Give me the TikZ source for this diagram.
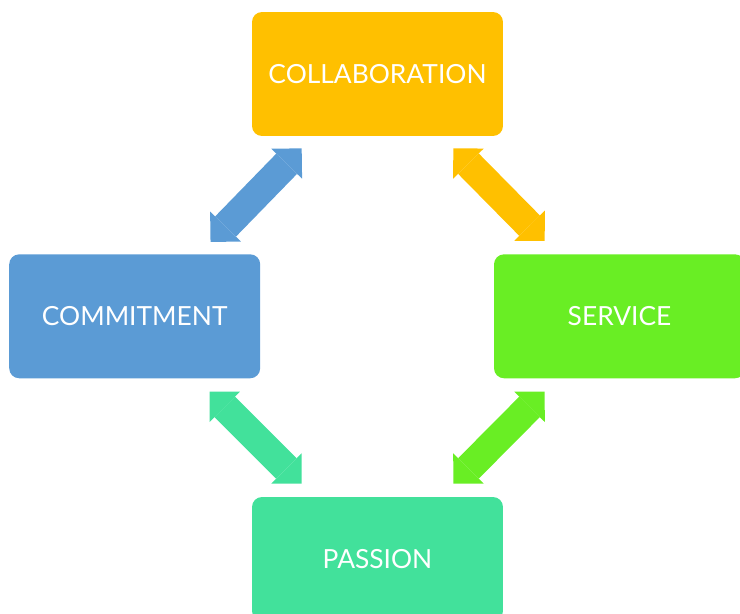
\documentclass[tikz,border=0pt]{standalone}
\usepackage{fontspec}
\setmainfont{Lato}
\usetikzlibrary{arrows.meta,calc}

\definecolor{collabyellow}{HTML}{FFC000}
\definecolor{commitblue}{HTML}{5B9BD5}
\definecolor{servicegreen}{HTML}{69EE24}
\definecolor{passionteal}{HTML}{42E19B}

\tikzset{
  valuebox/.style={rounded corners=0.2cm, minimum width=5.02cm, minimum height=2.48cm,
    inner sep=0pt, text=white, font=\fontsize{15}{18}\selectfont},
  twoway/.style={line width=0.58cm,
    {Triangle[width=0.86cm,length=0.43cm,line width=0pt]}-{Triangle[width=0.86cm,length=0.43cm,line width=0pt]}},
}

\begin{document}
\begin{tikzpicture}[x=0.02cm,y=-0.02cm]
			%%%%% FRAME %%%%%
			\useasboundingbox (0,0) rectangle (740,614);
			\clip (0,0) rectangle (740,614);
			
			%%%%% VALUES %%%%%
			\node[valuebox, fill=collabyellow] (collab) at (377.5,74) {COLLABORATION};
			\node[valuebox, fill=commitblue] (commit) at (134.7,316.3) {COMMITMENT};
			\node[valuebox, fill=servicegreen] (service) at (619.5,316.3) {SERVICE};
			\node[valuebox, fill=passionteal] (passion) at (377.5,559) {PASSION};
			
			%%%%% LINKS %%%%%
			\coordinate (blue1) at ($(collab.south west)+(50,12)$);
			\coordinate (blue2) at ($(commit.north east)+(-50,-12)$);
			\coordinate (yellow1) at ($(collab.south east)+(-50,12)$);
			\coordinate (yellow2) at ($(service.north west)+(51,-13)$);
			\coordinate (teal1) at ($(commit.south east)+(-51,13)$);
			\coordinate (teal2) at ($(passion.north west)+(50,-13)$);
			\coordinate (green1) at ($(service.south west)+(51,13)$);
			\coordinate (green2) at ($(passion.north east)+(-50,-13)$);
			
			\draw[twoway, commitblue] (blue1) -- (blue2);
			\draw[twoway, collabyellow] (yellow1) -- (yellow2);
			\draw[twoway, passionteal] (teal1) -- (teal2);
			\draw[twoway, servicegreen] (green1) -- (green2);
			
			%%%%% END %%%%%
\end{tikzpicture}
\end{document}
